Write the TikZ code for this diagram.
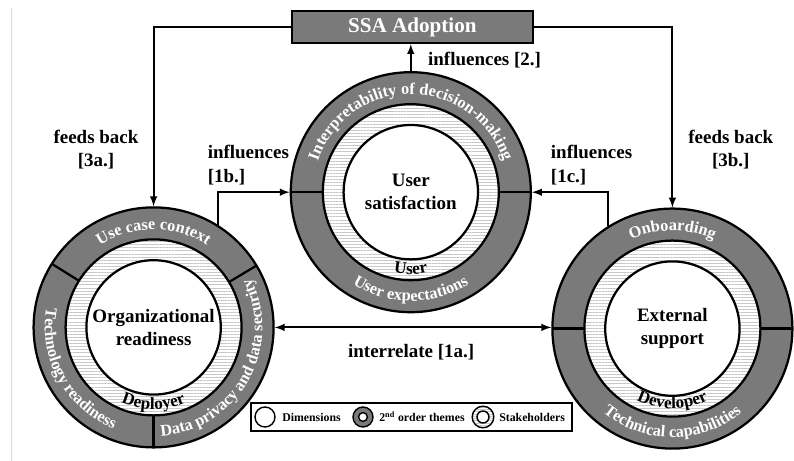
\documentclass[tikz,border=0pt]{standalone}
\usepackage{fontspec}
\setmainfont{Liberation Serif}
\usetikzlibrary{arrows, patterns.meta, decorations.text}

\definecolor{ringgray}{RGB}{122,122,122}
\definecolor{hatchgray}{RGB}{200,200,200}

\newcommand{\notefont}{\fontsize{13.5}{16.5}\selectfont\bfseries}
\newcommand{\ssafont}{\fontsize{15}{18}\selectfont\bfseries}
\newcommand{\ringfont}{\fontsize{11.6}{13}\selectfont\bfseries}
\newcommand{\stakefont}{\fontsize{12.2}{13}\selectfont\bfseries}
\newcommand{\legendfont}{\fontsize{8.4}{10}\selectfont\bfseries}

\tikzset{
  theme ring/.style={circle, draw, line width=1.6pt, fill=ringgray, minimum size=6cm, inner sep=0pt},
  stakeholder ring/.style={circle, draw, line width=1.6pt, preaction={fill=white},
    pattern={Lines[distance=2.2pt, line width=0.35pt]}, pattern color=hatchgray,
    minimum size=4.4cm, inner sep=0pt},
  dimension/.style={circle, draw, line width=1.6pt, fill=white, minimum size=3.36cm,
    inner sep=0pt, align=center, font=\notefont},
  divider/.style={line width=1.6pt},
  link/.style={line width=1.4pt, -latex},
  note/.style={font=\notefont, align=center},
}

\begin{document}
\begin{tikzpicture}
  \useasboundingbox (0,0) rectangle (19.85,11.525);
  \draw[gray!30, line width=0.6pt] (0.275,0) -- (0.275,11.325);

  % adoption box
  \node[draw, line width=1.6pt, fill=ringgray, text=white, font=\ssafont,
        minimum width=6.025cm, minimum height=0.8cm] (ssa) at (10.31,10.85) {SSA Adoption};

  % the three dimensions
  \node[theme ring] (org) at (3.84,3.34) {};
  \node[stakeholder ring] at (org) {};
  \node[dimension] (orgdim) at (org) {Organizational\\readiness};

  \node[theme ring] (user) at (10.27,6.72) {};
  \node[stakeholder ring] at (user) {};
  \node[dimension] (userdim) at (user) {User\\satisfaction};

  \node[theme ring] (ext) at (16.81,3.31) {};
  \node[stakeholder ring] at (ext) {};
  \node[dimension] (extdim) at (ext) {External\\support};

  % ring dividers
  \foreach \a in {148,31,270}
    \draw[divider] ([shift={(\a:2.2)}]org.center) -- ([shift={(\a:3)}]org.center);
  \foreach \a in {0,180}
    \draw[divider] ([shift={(\a:2.2)}]user.center) -- ([shift={(\a:3)}]user.center);
  \foreach \a in {0,180}
    \draw[divider] ([shift={(\a:2.2)}]ext.center) -- ([shift={(\a:3)}]ext.center);

  % 2nd order themes
  \path[decorate, decoration={text along path, text align=center, text color=white,
        text={|\ringfont|Use case context}}]
    ([shift={(150:2.45)}]org.center) arc[start angle=150, end angle=30, radius=2.45];
  \path[decorate, decoration={text along path, text align=center, text color=white,
        text={|\ringfont|Technology readiness}}]
    ([shift={(148:2.72)}]org.center) arc[start angle=148, end angle=270, radius=2.72];
  \path[decorate, decoration={text along path, text align=center, text color=white,
        text={|\ringfont|Data privacy and data security}}]
    ([shift={(268:2.72)}]org.center) arc[start angle=268, end angle=393, radius=2.72];
  \path[decorate, decoration={text along path, text align=center, text color=white,
        text={|\ringfont|Interpretability of decision-making}}]
    ([shift={(180:2.45)}]user.center) arc[start angle=180, end angle=0, radius=2.45];
  \path[decorate, decoration={text along path, text align=center, text color=white,
        text={|\ringfont|User expectations}}]
    ([shift={(190:2.72)}]user.center) arc[start angle=190, end angle=350, radius=2.72];
  \path[decorate, decoration={text along path, text align=center, text color=white,
        text={|\ringfont|Onboarding}}]
    ([shift={(178:2.45)}]ext.center) arc[start angle=178, end angle=2, radius=2.45];
  \path[decorate, decoration={text along path, text align=center, text color=white,
        text={|\ringfont|Technical capabilities}}]
    ([shift={(182:2.72)}]ext.center) arc[start angle=182, end angle=358, radius=2.72];

  % stakeholders
  \path[decorate, decoration={text along path, text align=center,
        text={|\stakefont|Deployer}}]
    ([shift={(220:2.05)}]org.center) arc[start angle=220, end angle=320, radius=2.05];
  \path[decorate, decoration={text along path, text align=center,
        text={|\stakefont|User}}]
    ([shift={(220:2.05)}]user.center) arc[start angle=220, end angle=320, radius=2.05];
  \path[decorate, decoration={text along path, text align=center,
        text={|\stakefont|Developer}}]
    ([shift={(220:2.0)}]ext.center) arc[start angle=220, end angle=320, radius=2.0];

  % connections
  \draw[link] (ssa.west) -| (org.north);
  \draw[link] (ssa.east) -| (ext.north);
  \draw[link] (user.north) -- (user.north |- ssa.south);
  \draw[link] (org.58) |- (user.west);
  \draw[link] (ext.122) |- (user.east);
  \draw[link, latex-latex] (org.east) -- (org.east -| ext.west);

  \node[note] (fb3a) at (2.4,7.79) {feeds back\\{}[3a.]};
  \node[note] (fb3b) at (18.27,7.79) {feeds back\\{}[3b.]};
  \node[note, anchor=west] (inf2) at (10.58,10.03) {influences [2.]};
  \node[note, align=left, anchor=west] (inf1b) at (5.07,7.4) {influences\\{}[1b.]};
  \node[note, align=left, anchor=west] (inf1c) at (13.65,7.4) {influences\\{}[1c.]};
  \node[note] (inter1a) at (10.28,2.73) {interrelate [1a.]};

  % legend
  \node[draw, line width=1pt, minimum width=8.025cm, minimum height=0.7cm] (legend) at (10.29,1.1) {};
  \node[circle, draw, line width=1pt, fill=white, minimum size=0.5cm, inner sep=0pt] (keydim) at (6.625,1.1) {};
  \node[circle, draw, line width=1pt, fill=ringgray, minimum size=0.5cm, inner sep=0pt] (keytheme) at (9.075,1.1) {};
  \node[circle, draw, line width=1pt, fill=white, minimum size=0.22cm, inner sep=0pt] at (keytheme) {};
  \node[circle, draw, line width=1pt, preaction={fill=white}, pattern={Lines[distance=1.6pt, line width=0.3pt]},
        pattern color=hatchgray, minimum size=0.54cm, inner sep=0pt] (keystake) at (12.075,1.1) {};
  \node[circle, draw, line width=1pt, fill=white, minimum size=0.3cm, inner sep=0pt] at (keystake) {};
  \node[font=\legendfont, anchor=west, inner sep=0pt] at (7.05,1.1) {Dimensions};
  \node[font=\legendfont, anchor=west, inner sep=0pt] at (9.475,1.1) {2\textsuperscript{nd} order themes};
  \node[font=\legendfont, anchor=west, inner sep=0pt] at (12.475,1.1) {Stakeholders};
\end{tikzpicture}
\end{document}
